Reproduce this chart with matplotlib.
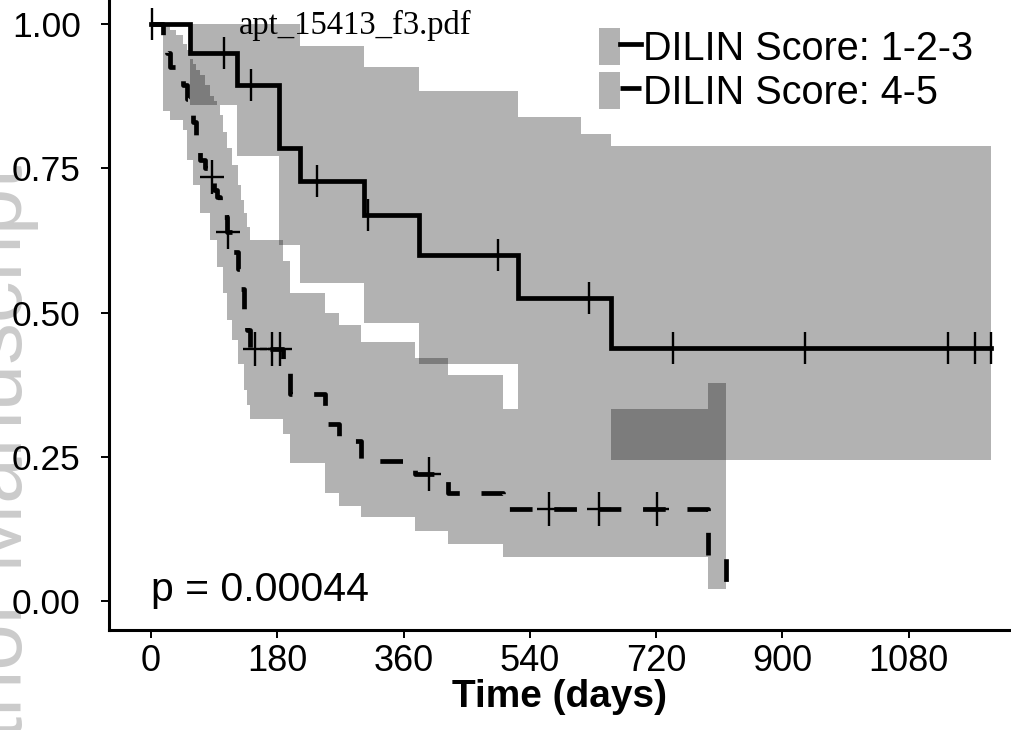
import matplotlib
matplotlib.use("Agg")
import matplotlib.pyplot as plt
import numpy as np
from matplotlib.lines import Line2D
from matplotlib.patches import Patch
from matplotlib.legend_handler import HandlerTuple

# ---- data (time in days, survival probability) ----
g1_time = [0, 55.6, 122.6, 182.5, 212.4, 303.7, 382.1, 523.2, 613.1, 655.8]
g1_surv = [1.0, 0.949, 0.895, 0.785, 0.728, 0.669, 0.600, 0.525, 0.525, 0.439]
g1_lower = [1.0, 0.859, 0.771, 0.617, 0.551, 0.482, 0.410, 0.332, 0.332, 0.244]
g1_upper = [1.0, 1.0, 1.0, 1.0, 0.961, 0.925, 0.884, 0.838, 0.809, 0.789]
g1_end = 1197.6
g1_censor = [2, 104, 142.6, 236.7, 309.4, 494.7, 624.5, 744.2, 932.4,
             1136, 1174.8, 1197.6]

g2_time = [0, 17.1, 22.8, 27.1, 35.6, 45.6, 51.3, 55.6, 59.9, 64.2, 69.9,
           77.0, 84.1, 89.8, 94.1, 98.4, 102.7, 108.4, 115.5, 124.0, 128.3,
           132.6, 136.9, 141.1, 188.2, 198.2, 248.1, 268.0, 299.4, 376.4,
           423.4, 501.8, 794.1]
g2_surv = [1.0, 0.975, 0.950, 0.925, 0.912, 0.895, 0.870, 0.850, 0.830,
           0.808, 0.765, 0.750, 0.735, 0.712, 0.700, 0.685, 0.665, 0.640,
           0.605, 0.575, 0.540, 0.505, 0.470, 0.436, 0.400, 0.358, 0.306,
           0.277, 0.242, 0.221, 0.188, 0.159, 0.078]
g2_lower = [1.0, 0.850, 0.850, 0.833, 0.833, 0.816, 0.764, 0.764, 0.721,
            0.721, 0.672, 0.672, 0.626, 0.626, 0.579, 0.579, 0.534, 0.487,
            0.453, 0.410, 0.410, 0.366, 0.340, 0.315, 0.289, 0.240, 0.188,
            0.164, 0.145, 0.121, 0.0985, 0.076, 0.021]
g2_upper = [1.0, 1.0, 1.0, 0.99, 0.98, 0.965, 0.955, 0.94, 0.93, 0.92,
            0.911, 0.895, 0.876, 0.866, 0.859, 0.842, 0.812, 0.785, 0.755,
            0.721, 0.695, 0.672, 0.648, 0.626, 0.590, 0.534, 0.500, 0.479,
            0.449, 0.422, 0.392, 0.332, 0.378]
g2_end = 819.8
g2_censor = [87, 110, 148, 172.5, 184, 396.3, 567.4, 638.7, 721.4]

labels = ["DILIN Score: 1-2-3", "DILIN Score: 4-5"]
xticks = [0, 180, 360, 540, 720, 900, 1080]
yticks = [0.0, 0.25, 0.50, 0.75, 1.00]
pval_text = "p = 0.00044"

W, H = 1011, 730
plt.rcParams["font.family"] = ["Liberation Sans", "DejaVu Sans"]
fig = plt.figure(figsize=(W / 100, H / 100), dpi=100)

# axes placed in pixel terms (ggplot-style 5% expansion)
ax = fig.add_axes([109 / W, 100.1 / H, 924 / W, 634.8 / H])
ax.set_facecolor("none")
ax.set_xlim(-59.9, 1257.5)
ax.set_ylim(-0.05, 1.05)

LW = 3.4
DASH = (0, (4.8, 4.6))


def band(times, lo, up, end):
    return (list(times) + [end], list(lo) + [lo[-1]], list(up) + [up[-1]])


t1, lo1, up1 = band(g1_time, g1_lower, g1_upper, g1_end)
t2, lo2, up2 = band(g2_time, g2_lower, g2_upper, g2_end)
ax.fill_between(t1, lo1, up1, step="post", color="black", alpha=0.3, lw=0)
ax.fill_between(t2, lo2, up2, step="post", color="black", alpha=0.3, lw=0)

ax.step(g1_time + [g1_end], g1_surv + [g1_surv[-1]], where="post",
        color="black", lw=LW, solid_joinstyle="miter")
ax.step(g2_time + [g2_end], g2_surv + [0.0], where="post",
        color="black", lw=LW, ls=DASH)


def surv_at(times, surv, c):
    return [surv[np.searchsorted(times, x, side="right") - 1] for x in c]


cy1 = surv_at(g1_time, g1_surv, g1_censor)
ax.plot(g1_censor, cy1, ls="none", marker="|", ms=23, mew=1.7, color="black")
cy2 = surv_at(g2_time, g2_surv, g2_censor)
ax.plot(g2_censor, cy2, ls="none", marker="|", ms=24, mew=1.7, color="black")
ax.plot(g2_censor, cy2, ls="none", marker="_", ms=17, mew=1.7, color="black")

ax.text(0, 0.0, pval_text, ha="left", va="baseline", fontsize=29.5)

for s in ["top", "right"]:
    ax.spines[s].set_visible(False)
for s in ["left", "bottom"]:
    ax.spines[s].set_linewidth(2.2)
ax.set_xticks(xticks)
ax.set_xticklabels([str(x) for x in xticks], fontsize=26)
ax.set_yticks(yticks)
ax.set_yticklabels([f"{y:.2f}" for y in yticks], fontsize=25.5)
ax.tick_params(axis="both", length=5.8, width=1.4, colors="black")
ax.tick_params(axis="y", pad=14.5)
ax.tick_params(axis="x", pad=4)
ax.set_xlabel("Time (days)", fontsize=28, fontweight="bold", labelpad=0)
ax.xaxis.set_label_coords((560 - 109) / 924, -(707 - 629.9) / 634.8)
ax.xaxis.label.set_va("baseline")

key = dict(facecolor=(0, 0, 0, 0.3), edgecolor="none")
handles = [(Patch(**key), Line2D([], [], color="black", lw=LW)),
           (Patch(**key), Line2D([], [], color="black", lw=LW, ls=DASH))]
fig.legend(handles, labels, loc="upper left",
           bbox_to_anchor=(599 / W, 1 - 28 / H),
           bbox_transform=fig.transFigure, frameon=False,
           fontsize=28.5, handlelength=1.06, handleheight=1.06,
           handletextpad=0.06, labelspacing=0.1, borderpad=0,
           borderaxespad=0,
           handler_map={tuple: HandlerTuple(ndivide=None, pad=0)})

fig.text(239 / W, 1 - 34 / H, "apt_15413_f3.pdf", family="Liberation Serif",
         fontsize=23.5, va="baseline", ha="left")

# faint rotated watermark, mostly cut off at the left edge
fig.text(22 / W, 1 - 165 / H, "Author Manuscript", rotation=90,
         rotation_mode="anchor", ha="right", va="baseline", fontsize=60,
         color="#cbcbcb", zorder=-5)

fig.savefig("out.png", dpi=100)
